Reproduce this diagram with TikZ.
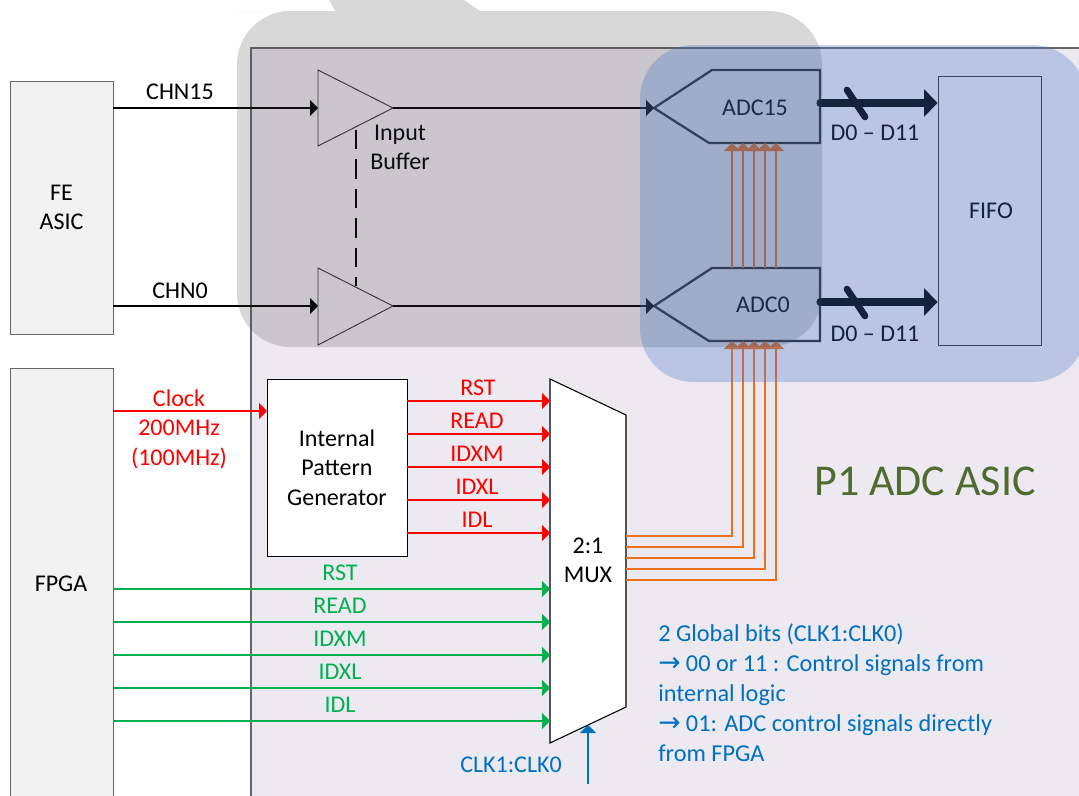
\documentclass[tikz,border=0pt]{standalone}
\usepackage{fontspec}
\usetikzlibrary{arrows.meta}
\setmainfont{Carlito}
\newfontfamily\arrowfont{DejaVu Sans}
\definecolor{asicfill}{HTML}{ECE9F1}
\definecolor{boxfill}{HTML}{F2F2F2}
\definecolor{sigred}{HTML}{FF0000}
\definecolor{siggreen}{HTML}{00B050}
\definecolor{sigorange}{HTML}{ED7020}
\definecolor{noteblue}{HTML}{0070C0}
\definecolor{titlegreen}{HTML}{4F6B2F}
\definecolor{overlayblue}{HTML}{4472C4}
\definecolor{overlaygray}{HTML}{404040}
\def\px{0.75pt}
\newcommand{\notearrow}{{\arrowfont\fontsize{20}{22.5}\selectfont →}\hspace{4pt}}
\tikzset{
  every node/.style={font=\fontsize{18}{22}\selectfont,align=center,inner sep=0pt},
  sidebox/.style={draw=black!60,line width=0.6pt,fill=boxfill},
  bufshape/.style={draw=black!80,line width=0.7pt},
  adcshape/.style={draw=black!85,line width=1.7pt},
  tip/.style={-{Triangle[length=6pt,width=12pt]}},
  blackline/.style={tip,draw=black,line width=1.7pt},
  redline/.style={tip,draw=sigred,line width=1.9pt},
  greenline/.style={tip,draw=siggreen,line width=1.9pt},
  orangeline/.style={draw=sigorange,line width=2.2pt},
  orangetip/.style={orangeline,tip},
  busline/.style={draw=black,line width=5.4pt,line cap=round,-{Triangle[length=10pt,width=20pt]}},
  busslash/.style={draw=black,line width=5pt,line cap=round},
}
\begin{document}
\begin{tikzpicture}[x=\px,y=-\px]
\clip (0,0) rectangle (1079,796);
\fill[white] (0,0) rectangle (1079,796);
% chip outline
\draw[fill=asicfill,draw=black!60,line width=0.8pt] (251,48) rectangle (1120,840);
% side blocks
\node[sidebox,minimum width=103*\px,minimum height=253*\px] (fe) at (61.5,207.5) {FE\\ASIC};
\node[sidebox,minimum width=103*\px,minimum height=440*\px] (fpga) at (61.5,588) {};
\node (fpgalabel) at (61,584) {FPGA};
% input buffers
\coordinate (buf15in) at (318,108);
\coordinate (buf15out) at (393,108);
\coordinate (buf0in) at (318,306);
\coordinate (buf0out) at (393,306);
\draw[bufshape] (318,70) -- (buf15out) -- (318,146) -- cycle;
\draw[bufshape] (318,268) -- (buf0out) -- (318,345) -- cycle;
\node (buflabel) at (400,147.5) {Input\\Buffer};
\draw[black,line width=1.7pt,dash pattern=on 14.5pt off 7.6pt] (356,130) -- (356,286);
\node (chn15) at (180,92) {CHN15};
\node (chn0) at (180,291) {CHN0};
\draw[blackline] (fe.east |- buf15in) -- (buf15in);
\draw[blackline] (fe.east |- buf0in) -- (buf0in);
% ADCs
\coordinate (adc15tip) at (654,108);
\coordinate (adc0tip) at (654,306);
\draw[adcshape] (adc15tip) -- (712,70) -- (820,70) -- (820,143) -- (709,143) -- cycle;
\draw[adcshape] (adc0tip) -- (712,268) -- (820,268) -- (820,341) -- (709,341) -- cycle;
\node (adc15) at (755,108) {ADC15};
\node (adc0) at (763,305) {ADC0};
\draw[blackline] (buf15out) -- (adc15tip);
\draw[blackline] (buf0out) -- (adc0tip);
% FIFO
\node[draw=black!80,line width=0.7pt,minimum width=103*\px,minimum height=269*\px] (fifo) at (989.5,210.5) {};
\node (fifolabel) at (991,211) {FIFO};
\coordinate (adc15out) at (820,103);
\coordinate (adc0out) at (820,302);
\draw[busline] (adc15out) -- (fifo.west |- adc15out);
\draw[busline] (adc0out) -- (fifo.west |- adc0out);
\draw[busslash] (847,90) -- (865,117);
\draw[busslash] (847,289) -- (865,316);
\node (d15label) at (875,133) {D0 -- D11};
\node (d0label) at (875,334) {D0 -- D11};
% pattern generator
\node[draw=black,line width=0.7pt,fill=white,minimum width=140*\px,minimum height=177*\px] (pg) at (337,467.5) {Internal\\Pattern\\Generator};
% mux
\draw[fill=white,draw=black,line width=0.8pt] (550,379) -- (626,415) -- (626,707) -- (550,743) -- cycle;
\node (mux) at (588,560) {2:1\\MUX};
\coordinate (rin0) at (550,401);
\coordinate (rin1) at (550,434);
\coordinate (rin2) at (550,467);
\coordinate (rin3) at (550,500);
\coordinate (rin4) at (550,533);
\coordinate (gin0) at (550,589);
\coordinate (gin1) at (550,622);
\coordinate (gin2) at (550,655);
\coordinate (gin3) at (550,688);
\coordinate (gin4) at (550,721);
\draw[redline] (pg.east |- rin0) -- (rin0);
\draw[redline] (pg.east |- rin1) -- (rin1);
\draw[redline] (pg.east |- rin2) -- (rin2);
\draw[redline] (pg.east |- rin3) -- (rin3);
\draw[redline] (pg.east |- rin4) -- (rin4);
\draw[greenline] (fpga.east |- gin0) -- (gin0);
\draw[greenline] (fpga.east |- gin1) -- (gin1);
\draw[greenline] (fpga.east |- gin2) -- (gin2);
\draw[greenline] (fpga.east |- gin3) -- (gin3);
\draw[greenline] (fpga.east |- gin4) -- (gin4);
\node[text=sigred] (rlab0) at (478,388) {RST};
\node[text=sigred] (rlab1) at (477,421) {READ};
\node[text=sigred] (rlab2) at (477,454) {IDXM};
\node[text=sigred] (rlab3) at (477,487) {IDXL};
\node[text=sigred] (rlab4) at (477,520) {IDL};
\node[text=siggreen] (glab0) at (340,573) {RST};
\node[text=siggreen] (glab1) at (340,606) {READ};
\node[text=siggreen] (glab2) at (340,639) {IDXM};
\node[text=siggreen] (glab3) at (340,672) {IDXL};
\node[text=siggreen] (glab4) at (340,705) {IDL};
\node[text=sigred] (clock) at (179,429) {Clock\\200MHz\\(100MHz)};
\coordinate (clockin) at (267,411);
\draw[redline] (fpga.east |- clockin) -- (clockin);
% mux outputs
\coordinate (adc0in0) at (732,341);
\coordinate (adc0in1) at (743,341);
\coordinate (adc0in2) at (754,341);
\coordinate (adc0in3) at (765,341);
\coordinate (adc0in4) at (776,341);
\coordinate (adc15in0) at (732,143);
\coordinate (adc15in1) at (743,143);
\coordinate (adc15in2) at (754,143);
\coordinate (adc15in3) at (765,143);
\coordinate (adc15in4) at (776,143);
\draw[orangetip] (626,536) -| (adc0in0);
\draw[orangetip] (626,547) -| (adc0in1);
\draw[orangetip] (626,558) -| (adc0in2);
\draw[orangetip] (626,569) -| (adc0in3);
\draw[orangetip] (626,580) -| (adc0in4);
\draw[orangetip] (732,268) -- (adc15in0);
\draw[orangetip] (743,268) -- (adc15in1);
\draw[orangetip] (754,268) -- (adc15in2);
\draw[orangetip] (765,268) -- (adc15in3);
\draw[orangetip] (776,268) -- (adc15in4);
% overlays
\fill[overlaygray,fill opacity=0.2,rounded corners=40pt] (237,200) -- (237,11) -- (290,11) [sharp corners] -- (335,11) -- (327,-4) -- (458,-4) -- (480,11) -- (600,11) [rounded corners=40pt] -- (822,11) -- (822,347) -- (237,347) -- cycle;
\fill[overlayblue,fill opacity=0.3,rounded corners=40pt] (640,45) rectangle (1086,382);
% notes
\node[font=\fontsize{33}{38}\selectfont,text=titlegreen] (title) at (925,481) {P1 ADC ASIC};
\node[text=noteblue,align=left,anchor=north west,font=\fontsize{18.2}{22.5}\selectfont] (note) at (658,623) {2 Global bits (CLK1:CLK0)\\\notearrow 00 or 11 : Control signals from\\internal logic\\\notearrow 01: ADC control signals directly\\from FPGA};
\node[text=noteblue] (clk) at (511,765) {CLK1:CLK0};
\coordinate (clkpin) at (588,725);
\draw[draw=noteblue,line width=1.9pt,tip] (588,784) -- (clkpin);
\end{tikzpicture}
\end{document}
